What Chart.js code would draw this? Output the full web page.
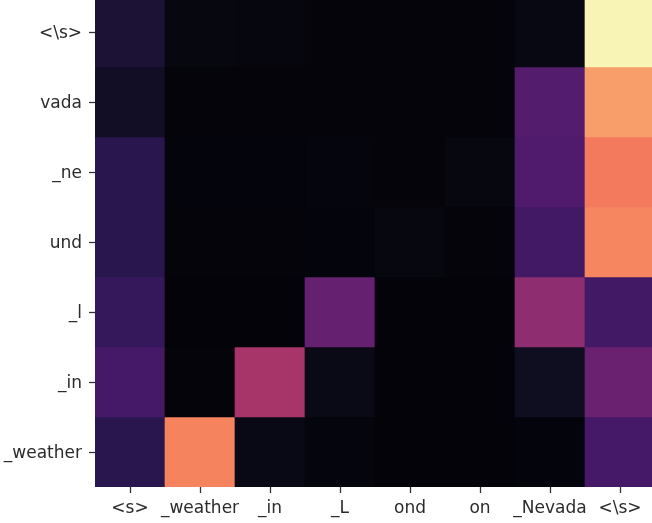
<!DOCTYPE html>
<html>
<head>
<meta charset="utf-8">
<script src="https://cdn.jsdelivr.net/npm/chart.js@4.4.1/dist/chart.umd.min.js"></script>
<style>
  html, body { margin: 0; padding: 0; background: #ffffff; overflow: hidden; width: 652px; height: 523px; }
  #wrap { position: absolute; left: 0; top: -3px; width: 660px; height: 526px; }
</style>
</head>
<body>
<div id="wrap"><canvas id="c" width="660" height="526"></canvas></div>
<script>
// Column (source) tokens, left to right
const xLabels = ['<s>', '_weather', '_in', '_L', 'ond', 'on', '_Nevada', '<\\s>'];
// Row (target) tokens, top to bottom
const yLabels = ['<\\s>', 'vada', '_ne', 'und', '_l', '_in', '_weather'];

// Attention weights per row (top to bottom), one value per column
const rowEnd     = [0.11, 0.03, 0.025, 0.01, 0.01, 0.01, 0.04, 0.99];
const rowVada    = [0.08, 0.01, 0.01, 0.01, 0.01, 0.01, 0.26, 0.79];
const rowNe      = [0.15, 0.015, 0.015, 0.02, 0.01, 0.03, 0.25, 0.70];
const rowUnd     = [0.15, 0.01, 0.01, 0.015, 0.03, 0.01, 0.21, 0.74];
const rowL       = [0.18, 0.005, 0.005, 0.30, 0.005, 0.005, 0.40, 0.21];
const rowIn      = [0.22, 0.01, 0.47, 0.05, 0.005, 0.005, 0.07, 0.31];
const rowWeather = [0.15, 0.73, 0.045, 0.02, 0.005, 0.005, 0.015, 0.22];
const matrix = [rowEnd, rowVada, rowNe, rowUnd, rowL, rowIn, rowWeather];

// magma-like colormap stops
const cmap = [
  [0.00, [2, 2, 7]],
  [0.05, [10, 10, 22]],
  [0.10, [23, 17, 47]],
  [0.15, [41, 22, 79]],
  [0.20, [61, 24, 99]],
  [0.25, [80, 27, 108]],
  [0.30, [101, 32, 112]],
  [0.40, [142, 46, 112]],
  [0.47, [168, 53, 106]],
  [0.60, [222, 84, 96]],
  [0.70, [243, 122, 92]],
  [0.74, [246, 134, 95]],
  [0.79, [248, 158, 106]],
  [0.90, [250, 210, 150]],
  [1.00, [248, 248, 184]]
];
function colorOf(v) {
  for (let i = 1; i < cmap.length; i++) {
    if (v <= cmap[i][0]) {
      const [a, ca] = cmap[i - 1], [b, cb] = cmap[i];
      const t = (v - a) / (b - a);
      const c = ca.map((x, k) => Math.round(x + (cb[k] - x) * t));
      return `rgb(${c[0]},${c[1]},${c[2]})`;
    }
  }
  const c = cmap[cmap.length - 1][1];
  return `rgb(${c[0]},${c[1]},${c[2]})`;
}

const datasets = matrix.map((row, i) => ({
  label: yLabels[i],
  data: row.map(() => [i, i + 1]),
  backgroundColor: row.map(colorOf),
  borderWidth: 0,
  barPercentage: 1,
  categoryPercentage: 1,
  grouped: false
}));

const tickFont = { family: 'DejaVu Sans', size: 17 };
const textColor = '#2b2b2b';

function noPad(s) {
  s.paddingTop = 0; s.paddingBottom = 0; s.paddingLeft = 0; s.paddingRight = 0;
}

new Chart(document.getElementById('c'), {
  type: 'bar',
  data: { labels: xLabels, datasets },
  options: {
    responsive: false,
    animation: false,
    devicePixelRatio: 1,
    layout: { padding: { left: 0, right: 5, top: 0, bottom: 0 } },
    plugins: { legend: { display: false }, tooltip: { enabled: false } },
    scales: {
      x: {
        type: 'category',
        offset: true,
        grid: { offset: false, drawOnChartArea: false, drawTicks: true, tickLength: 6, tickWidth: 1.3, tickColor: '#333333' },
        border: { display: false },
        ticks: { font: tickFont, color: textColor, padding: 5, autoSkip: false, maxRotation: 0, minRotation: 0 },
        afterFit: (s) => { s.height = 36; noPad(s); }
      },
      y: {
        type: 'linear',
        min: 0,
        max: 7,
        reverse: true,
        grid: { drawOnChartArea: false, drawTicks: true, tickLength: 6, tickWidth: 1.3, tickColor: '#333333' },
        border: { display: false },
        afterBuildTicks: (s) => { s.ticks = yLabels.map((_, i) => ({ value: i + 0.5 })); },
        ticks: {
          font: tickFont, color: textColor, padding: 7, autoSkip: false, labelOffset: 2,
          callback: (v, idx) => yLabels[idx]
        },
        afterFit: (s) => { s.width = 95; noPad(s); }
      }
    }
  }
});
</script>
</body>
</html>
